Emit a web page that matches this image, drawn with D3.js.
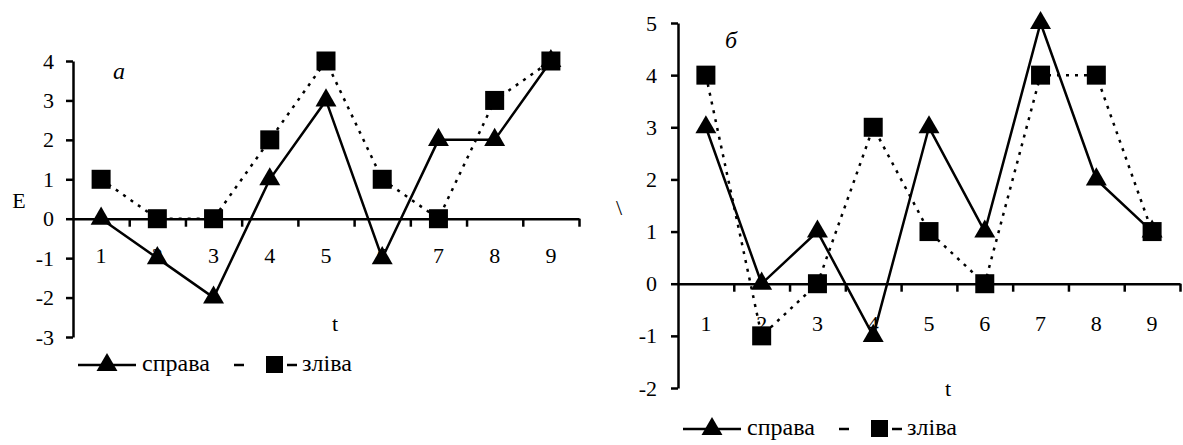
<!DOCTYPE html>
<html>
<head>
<meta charset="utf-8">
<script src="https://cdn.jsdelivr.net/npm/d3@7"></script>
<style>
  body { margin: 0; background: #fff; }
  svg text { font-family: "Liberation Serif", "Times New Roman", serif; fill: #000; }
</style>
</head>
<body>
<div id="chart"></div>
<script>
// Data
var steps = [1, 2, 3, 4, 5, 6, 7, 8, 9];

// chart "а"
var rightA = [0, -1, -2, 1, 3, -1, 2, 2, 4];   // справа
var leftA  = [1, 0, 0, 2, 4, 1, 0, 3, 4];      // зліва
var yTicksA = [-3, -2, -1, 0, 1, 2, 3, 4];

// chart "б"
var rightB = [3, 0, 1, -1, 3, 1, 5, 2, 1];
var leftB  = [4, -1, 0, 3, 1, 0, 4, 4, 1];
var yTicksB = [-2, -1, 0, 1, 2, 3, 4, 5];

var seriesNames = ["справа", "зліва"];

var svgWidth = 1183;
var svgHeight = 445;

var svg = d3.select("#chart")
  .append("svg")
  .attr("width", svgWidth)
  .attr("height", svgHeight);

// Panels: plot box in page pixels
var panels = [
  { letter: "а", right: rightA, left: leftA, yTicks: yTicksA,
    x0: 73, x1: 579, yTop: 61, yBottom: 337,
    letterPos: [119, 71], yTitle: "E", yTitlePos: [19, 200],
    tPos: [335, 323], legendPos: [78, 363], labelPad: 29, yPad: 12 },
  { letter: "б", right: rightB, left: leftB, yTicks: yTicksB,
    x0: 678, x1: 1180, yTop: 23, yBottom: 388,
    letterPos: [731, 40], yTitle: "\\", yTitlePos: [619, 207],
    tPos: [948, 388], legendPos: [683, 427], labelPad: 32, yPad: 14 }
];

// plain hyphen for negatives, as in the source
var fmt = function(d) { return String(d); };

panels.forEach(function(p) {
  var g = svg.append("g");

  var xBand = d3.scaleBand()
    .domain(steps)
    .range([p.x0, p.x1]);

  var xEdge = d3.scaleLinear()
    .domain([0.5, steps.length + 0.5])
    .range([p.x0, p.x1]);

  var yScale = d3.scaleLinear()
    .domain(d3.extent(p.yTicks))
    .range([p.yBottom, p.yTop]);

  var xc = function(i) { return xBand(steps[i]) + xBand.bandwidth() / 2; };

  // y axis
  var yAxis = g.append("g")
    .attr("transform", "translate(" + p.x0 + ",0)")
    .call(d3.axisLeft(yScale).tickValues(p.yTicks).tickFormat(fmt)
      .tickSize(7).tickSizeOuter(0).tickPadding(p.yPad));

  // x axis at zero: tick marks at category edges
  var xAxis = g.append("g")
    .attr("transform", "translate(0," + yScale(0) + ")")
    .call(d3.axisBottom(xEdge).tickValues(d3.range(1.5, steps.length + 1, 1))
      .tickFormat("").tickSize(8).tickSizeOuter(0));

  // category labels
  var xLabels = g.append("g")
    .attr("transform", "translate(0," + yScale(0) + ")")
    .call(d3.axisBottom(xBand).tickSize(0).tickPadding(p.labelPad));
  xLabels.select(".domain").remove();

  [yAxis, xAxis].forEach(function(a) {
    a.selectAll("path, line").attr("stroke", "#000").attr("stroke-width", 2.5);
  });
  g.selectAll(".tick text")
    .attr("font-size", "22px")
    .attr("font-family", "Liberation Serif, serif");

  // series lines
  var line = d3.line()
    .x(function(d, i) { return xc(i); })
    .y(function(d) { return yScale(d); });

  g.append("path")
    .datum(p.right)
    .attr("d", line)
    .attr("fill", "none")
    .attr("stroke", "#000")
    .attr("stroke-width", 2.5);

  g.append("path")
    .datum(p.left)
    .attr("d", line)
    .attr("fill", "none")
    .attr("stroke", "#000")
    .attr("stroke-width", 2.5)
    .attr("stroke-dasharray", "3,6");

  var tri = d3.symbol().type(d3.symbolTriangle).size(190);

  g.selectAll(".tri")
    .data(p.right)
    .enter()
    .append("path")
    .attr("class", "tri")
    .attr("d", tri)
    .attr("transform", function(d, i) { return "translate(" + xc(i) + "," + yScale(d) + ")"; })
    .attr("fill", "#000");

  g.selectAll(".sq")
    .data(p.left)
    .enter()
    .append("rect")
    .attr("class", "sq")
    .attr("x", function(d, i) { return xc(i) - 9.5; })
    .attr("y", function(d) { return yScale(d) - 9.5; })
    .attr("width", 19)
    .attr("height", 19)
    .attr("fill", "#000");

  // panel letter and titles
  g.append("text")
    .attr("x", p.letterPos[0]).attr("y", p.letterPos[1])
    .attr("dy", "0.35em")
    .attr("text-anchor", "middle")
    .attr("font-size", "24px")
    .attr("font-style", "italic")
    .text(p.letter);

  g.append("text")
    .attr("x", p.yTitlePos[0]).attr("y", p.yTitlePos[1])
    .attr("dy", "0.35em")
    .attr("text-anchor", "middle")
    .attr("font-size", "22px")
    .text(p.yTitle);

  g.append("text")
    .attr("x", p.tPos[0]).attr("y", p.tPos[1])
    .attr("dy", "0.35em")
    .attr("text-anchor", "middle")
    .attr("font-size", "22px")
    .text("t");

  // legend
  var lx = p.legendPos[0], ly = p.legendPos[1];
  var lg = g.append("g").attr("transform", "translate(" + lx + "," + ly + ")");
  lg.append("line")
    .attr("x1", 0).attr("x2", 58).attr("y1", 2).attr("y2", 2)
    .attr("stroke", "#000").attr("stroke-width", 2.5);
  lg.append("path")
    .attr("d", tri)
    .attr("transform", "translate(29,2)")
    .attr("fill", "#000");
  lg.append("text")
    .attr("x", 64).attr("y", 0).attr("dy", "0.35em")
    .attr("font-size", "24px")
    .text(seriesNames[0]);
  lg.append("line")
    .attr("x1", 156).attr("x2", 166).attr("y1", 2).attr("y2", 2)
    .attr("stroke", "#000").attr("stroke-width", 2.5);
  lg.append("rect")
    .attr("x", 188).attr("y", -7).attr("width", 17).attr("height", 17)
    .attr("fill", "#000");
  lg.append("line")
    .attr("x1", 209).attr("x2", 219).attr("y1", 2).attr("y2", 2)
    .attr("stroke", "#000").attr("stroke-width", 2.5);
  lg.append("text")
    .attr("x", 224).attr("y", 0).attr("dy", "0.35em")
    .attr("font-size", "24px")
    .text(seriesNames[1]);
});
</script>
</body>
</html>
